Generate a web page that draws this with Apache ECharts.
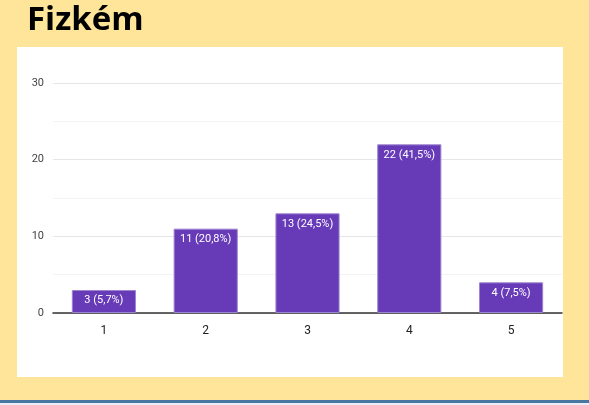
<!DOCTYPE html>
<html lang="hu">
  <head>
    <meta charset="UTF-8" />
    <title>Fizkém</title>
    <script src="https://cdn.jsdelivr.net/npm/echarts@6/dist/echarts.min.js"></script>
    <style>
      body {
        margin: 0;
        padding: 0;
        background: #ffe599;
      }

      #main {
        width: 589px;
        height: 405px;
      }
    </style>
  </head>

  <body>
    <div id="main"></div>
    <script>
      const categories = ["1", "2", "3", "4", "5"];
      const counts = [3, 11, 13, 22, 4];
      const percents = ["5,7", "20,8", "24,5", "41,5", "7,5"];

      const narrow = "'Liberation Sans Narrow', 'Roboto', sans-serif";
      const myChart = echarts.init(document.getElementById("main"));

      const option = {
        backgroundColor: "#ffe599",
        animation: false,
        title: {
          text: "Fizkém",
          left: 22,
          top: -1,
          textStyle: {
            fontFamily: "'Open Sans', sans-serif",
            fontWeight: "bold",
            fontSize: 33,
            color: "#000",
          },
        },
        graphic: [
          {
            type: "rect",
            z: -10,
            shape: { x: 17, y: 47, width: 546, height: 330 },
            style: { fill: "#ffffff" },
          },
          {
            type: "rect",
            z: -10,
            shape: { x: 0, y: 400, width: 589, height: 3 },
            style: { fill: "#4a77a2" },
          },
          {
            type: "rect",
            z: -10,
            shape: { x: 0, y: 403, width: 589, height: 2 },
            style: { fill: "#e8eef6" },
          },
        ],
        grid: {
          left: 53,
          right: 27,
          top: 83,
          bottom: 92,
        },
        xAxis: {
          type: "category",
          data: categories,
          axisTick: { show: false },
          axisLine: { lineStyle: { color: "#333", width: 1.5 } },
          axisLabel: {
            margin: 12,
            fontFamily: narrow,
            fontSize: 12,
            color: "#222",
          },
        },
        yAxis: {
          type: "value",
          min: 0,
          max: 30,
          interval: 10,
          axisLabel: {
            margin: 9,
            fontFamily: narrow,
            fontSize: 11,
            color: "#444",
          },
          splitLine: { lineStyle: { color: "#e6e6e6" } },
          minorTick: { show: false, splitNumber: 2 },
          minorSplitLine: { show: true, lineStyle: { color: "#f3f3f3" } },
        },
        series: [
          {
            type: "bar",
            data: counts,
            barWidth: "63%",
            itemStyle: {
              color: "#673ab7",
              borderColor: "#9c84d0",
              borderWidth: 1,
            },
            label: {
              show: true,
              position: "insideTop",
              distance: 5,
              fontFamily: narrow,
              fontSize: 11,
              color: "#fff",
              formatter: (p) => `${p.value} (${percents[p.dataIndex]}%)`,
            },
          },
        ],
      };

      myChart.setOption(option);
    </script>
  </body>
</html>
